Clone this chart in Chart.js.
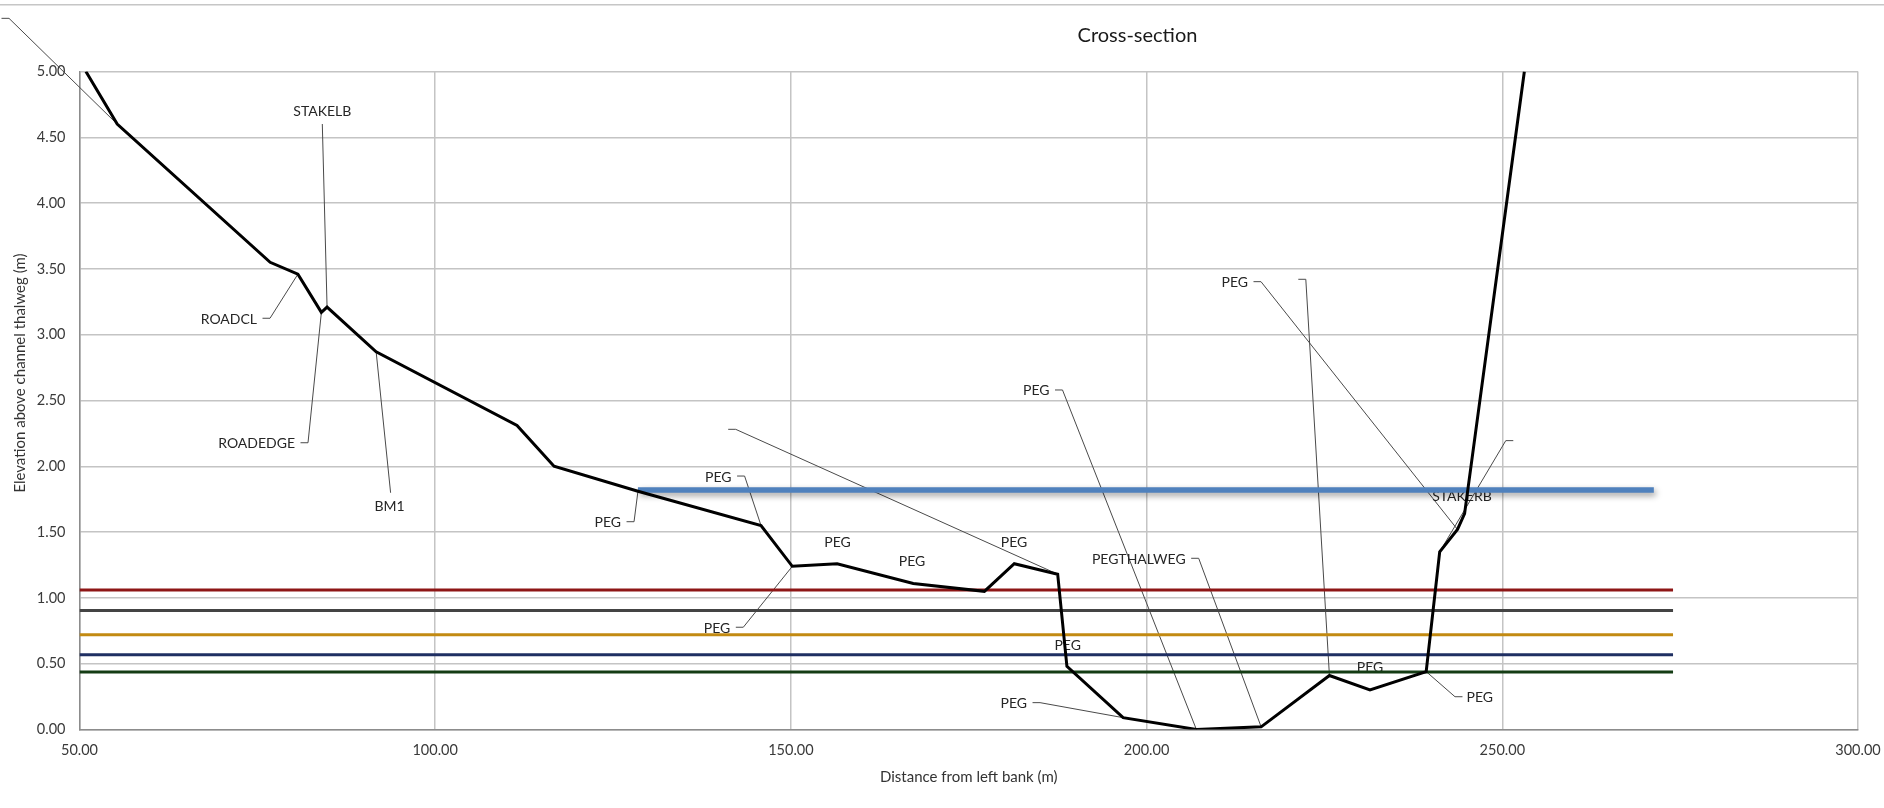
<!DOCTYPE html>
<html>
<head>
<meta charset="utf-8">
<script src="https://cdn.jsdelivr.net/npm/chart.js@4.4.0/dist/chart.umd.min.js"></script>
<style>
  html, body { margin: 0; padding: 0; background: #ffffff; }
  #wrap { position: relative; width: 1884px; height: 808px; }
  canvas { display: block; }
</style>
</head>
<body>
<div id="wrap"><canvas id="chart" width="1884" height="808"></canvas></div>
<script>
// ---------------- DATA ----------------
const chartTitle = 'Cross-section';
const xAxisTitle = 'Distance from left bank (m)';
const yAxisTitle = 'Elevation above channel thalweg (m)';

// Surveyed ground profile
const distance  = [50.9, 55.3, 76.8, 80.7, 84.0, 84.8, 91.7, 111.5, 116.7, 128.5, 145.8, 150.2, 156.5, 167.2, 177.2, 181.4, 187.5, 188.8, 196.7, 207.0, 216.1, 225.7, 231.4, 239.3, 241.2, 243.7, 244.7, 253.1];
const elevation = [5.00, 4.60, 3.55, 3.46, 3.17, 3.21, 2.87, 2.31, 2.00, 1.81, 1.55, 1.24, 1.26, 1.11, 1.05, 1.26, 1.18, 0.48, 0.09, 0.00, 0.02, 0.41, 0.30, 0.44, 1.35, 1.52, 1.64, 5.00];
const pointNames = ['', '', '', 'ROADCL', 'ROADEDGE', 'STAKELB', 'BM1', '', '', 'PEG', 'PEG', 'PEG', 'PEG', 'PEG', '', 'PEG', '', 'PEG', 'PEG', 'PEG', 'PEGTHALWEG', '', 'PEG', 'PEG', '', 'PEG', 'STAKERB', ''];

// Water surface
const waterSurfaceX = [128.5, 271.3];
const waterSurfaceLevel = 1.82;

// Reference levels
const levelX = [50, 274];
const levelValues = [1.06, 0.905, 0.72, 0.568, 0.437];

// Axis ticks
const xTickValues = [50, 100, 150, 200, 250, 300];
const yTickValues = [0, 0.5, 1, 1.5, 2, 2.5, 3, 3.5, 4, 4.5, 5];

// ---------------- STYLE / LAYOUT ----------------
const levelColors = ['#8e1616', '#444444', '#c28a12', '#1f2f62', '#143c14'];
const FONT = 'Lato, "Open Sans", "DejaVu Sans", sans-serif';

// label placement (data coordinates of leader knee / text centre)
const labelLayout = [
  { i: 1,  side: 'left',  kx: 40.09,  ky: 5.404 },
  { i: 3,  side: 'left',  kx: 76.78,  ky: 3.125 },
  { i: 4,  side: 'left',  kx: 82.12,  ky: 2.179 },
  { i: 5,  side: 'above', kx: 84.13,  ky: 4.601 },
  { i: 6,  side: 'below', kx: 93.73,  ky: 1.799 },
  { i: 9,  side: 'left',  kx: 127.95, ky: 1.579 },
  { i: 10, side: 'left',  kx: 143.49, ky: 1.926 },
  { i: 11, side: 'left',  kx: 143.31, ky: 0.777 },
  { i: 12, side: 'top',   kx: 156.55, ky: 1.419 },
  { i: 13, side: 'top',   kx: 167.02, ky: 1.275 },
  { i: 15, side: 'top',   kx: 181.36, ky: 1.419 },
  { i: 16, side: 'left',  kx: 142.24, ky: 2.281 },
  { i: 17, side: 'top',   kx: 188.90, ky: 0.642 },
  { i: 18, side: 'left',  kx: 185.02, ky: 0.204 },
  { i: 19, side: 'left',  kx: 188.18, ky: 2.580 },
  { i: 20, side: 'left',  kx: 207.32, ky: 1.301 },
  { i: 21, side: 'left',  kx: 222.38, ky: 3.421 },
  { i: 22, side: 'top',   kx: 231.40, ky: 0.473 },
  { i: 23, side: 'right', kx: 243.35, ky: 0.249 },
  { i: 24, side: 'right', kx: 250.49, ky: 2.195 },
  { i: 25, side: 'left',  kx: 216.08, ky: 3.403 },
  { i: 26, side: 'top',   kx: 244.33, ky: 1.774 }
];

// ---------------- PLUGINS ----------------
const decorPlugin = {
  id: 'decor',
  beforeDraw(chart) {
    const ctx = chart.ctx;
    ctx.save();
    ctx.fillStyle = '#ffffff';
    ctx.fillRect(0, 0, chart.width, chart.height);
    ctx.strokeStyle = '#c6c6c6';
    ctx.lineWidth = 1.5;
    ctx.beginPath();
    ctx.moveTo(0, 4.75);
    ctx.lineTo(chart.width, 4.75);
    ctx.stroke();
    ctx.restore();
  },
  afterDraw(chart) {
    const ctx = chart.ctx;
    ctx.save();
    ctx.fillStyle = '#1a1a1a';
    ctx.font = '20px ' + FONT;
    ctx.textAlign = 'center';
    ctx.textBaseline = 'middle';
    ctx.fillText(chartTitle, 1137.5, 35.5);
    ctx.fillStyle = '#333333';
    ctx.font = '15px ' + FONT;
    ctx.translate(20, 373);
    ctx.rotate(-Math.PI / 2);
    ctx.fillText(yAxisTitle, 0, 0);
    ctx.restore();
  }
};

const labelPlugin = {
  id: 'pointLabels',
  beforeDatasetsDraw(chart) {
    const ctx = chart.ctx;
    const xs = chart.scales.x, ys = chart.scales.y;
    ctx.save();
    ctx.font = '14px ' + FONT;
    ctx.fillStyle = '#262626';
    ctx.strokeStyle = '#4a4a4a';
    ctx.lineWidth = 1;
    labelLayout.forEach(l => {
      const px = xs.getPixelForValue(distance[l.i]);
      const py = ys.getPixelForValue(elevation[l.i]);
      const kx = xs.getPixelForValue(l.kx);
      const ky = ys.getPixelForValue(l.ky);
      const text = pointNames[l.i];
      ctx.textBaseline = 'middle';
      if (l.side === 'top') {
        ctx.textAlign = 'center';
        ctx.fillText(text, kx, ky);
        return;
      }
      ctx.beginPath();
      if (l.side === 'left') {
        ctx.moveTo(kx - 7.5, ky);
        ctx.lineTo(kx, ky);
      } else if (l.side === 'right') {
        ctx.moveTo(kx + 7.5, ky);
        ctx.lineTo(kx, ky);
      } else {
        ctx.moveTo(kx, ky);
      }
      ctx.lineTo(px, py);
      ctx.stroke();
      if (!text) return;
      if (l.side === 'left') {
        ctx.textAlign = 'right';
        ctx.fillText(text, kx - 13, ky + 1);
      } else if (l.side === 'right') {
        ctx.textAlign = 'left';
        ctx.fillText(text, kx + 11.5, ky + 0.5);
      } else if (l.side === 'above') {
        ctx.textAlign = 'center';
        ctx.fillText(text, kx, ky - 12.3);
      } else if (l.side === 'below') {
        ctx.textAlign = 'center';
        ctx.fillText(text, kx - 1, ky + 13.3);
      }
    });
    ctx.restore();
  }
};

const shadowPlugin = {
  id: 'waterShadow',
  beforeDatasetDraw(chart, args) {
    if (args.index === 1) {
      const ctx = chart.ctx;
      ctx.save();
      ctx.shadowColor = 'rgba(0,0,0,0.4)';
      ctx.shadowBlur = 6;
      ctx.shadowOffsetX = 2;
      ctx.shadowOffsetY = 3;
    }
  },
  afterDatasetDraw(chart, args) {
    if (args.index === 1) chart.ctx.restore();
  }
};

// ---------------- CHART ----------------
const groundData = distance.map((x, i) => ({ x: x, y: elevation[i] }));
const datasets = [
  { label: 'Ground', data: groundData, borderColor: '#000000', borderWidth: 3, pointRadius: 0, tension: 0, borderJoinStyle: 'miter' },
  { label: 'Water surface', data: waterSurfaceX.map(x => ({ x: x, y: waterSurfaceLevel })), borderColor: '#4f81bd', borderWidth: 5.5, pointRadius: 0 }
];
levelValues.forEach((v, k) => {
  datasets.push({ label: 'Level ' + (k + 1), data: levelX.map(x => ({ x: x, y: v })), borderColor: levelColors[k], borderWidth: 3, pointRadius: 0 });
});

new Chart(document.getElementById('chart'), {
  type: 'line',
  data: { datasets: datasets },
  plugins: [decorPlugin, labelPlugin, shadowPlugin],
  options: {
    responsive: false,
    animation: false,
    events: [],
    layout: { padding: { left: 0, right: 26, top: 71.5, bottom: 0 } },
    plugins: { legend: { display: false }, tooltip: { enabled: false }, title: { display: false } },
    scales: {
      x: {
        type: 'linear', min: 50, max: 300,
        afterBuildTicks: s => { s.ticks = xTickValues.map(v => ({ value: v })); },
        afterFit: s => { s.height = 78.5; s.paddingLeft = 0; s.paddingRight = 0; },
        ticks: { callback: v => Number(v).toFixed(2), font: { family: FONT, size: 14.5 }, color: '#3a3a3a', padding: 12, maxRotation: 0, autoSkip: false },
        grid: { color: '#c4c4c4', lineWidth: 1.5, drawTicks: false },
        border: { color: '#8c8c8c', width: 1.5 },
        title: { display: true, text: xAxisTitle, font: { family: FONT, size: 15 }, color: '#333333', padding: { top: 0, bottom: 22 } }
      },
      y: {
        type: 'linear', min: 0, max: 5,
        afterBuildTicks: s => { s.ticks = yTickValues.map(v => ({ value: v })); },
        afterFit: s => { s.width = 79.5; s.paddingTop = 0; s.paddingBottom = 0; },
        ticks: { callback: v => Number(v).toFixed(2), font: { family: FONT, size: 14.5 }, color: '#3a3a3a', padding: 14, autoSkip: false },
        grid: { color: '#c4c4c4', lineWidth: 1.5, drawTicks: false },
        border: { color: '#8c8c8c', width: 1.5 }
      }
    }
  }
});
</script>
</body>
</html>
